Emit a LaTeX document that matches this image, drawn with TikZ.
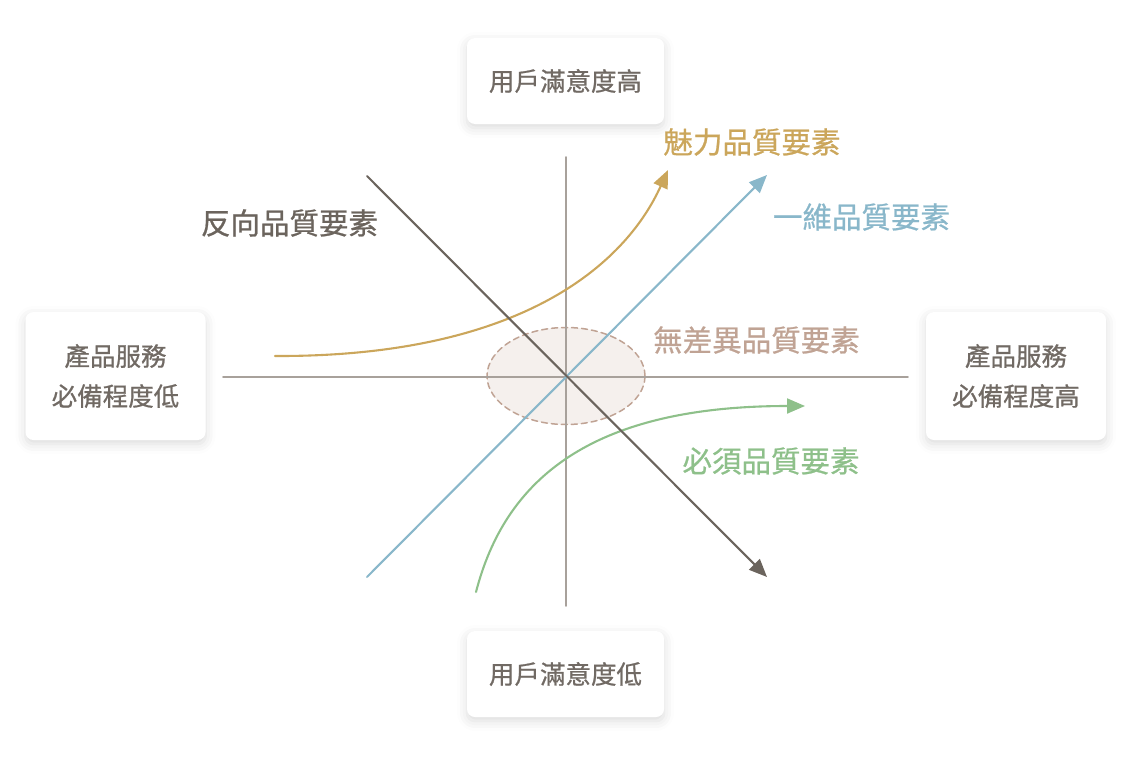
\documentclass[tikz,border=0pt]{standalone}
\usepackage{fontspec}
\setmainfont{Noto Sans CJK TC}[FakeBold=0.8]
\usetikzlibrary{arrows.meta, shapes.geometric, shadows.blur}

\definecolor{boxtext}{HTML}{716A64}
\definecolor{axisgray}{HTML}{A8A19B}
\definecolor{revcol}{HTML}{6B645D}
\definecolor{onecol}{HTML}{89B7CA}
\definecolor{attrcol}{HTML}{CBA65B}
\definecolor{mustcol}{HTML}{8EC08A}
\definecolor{indcol}{HTML}{C0A394}
\definecolor{indfill}{HTML}{F5F0ED}

\begin{document}
\begin{tikzpicture}[x=1pt, y=-1pt, >={Triangle[length=18pt,width=15pt]}, line cap=round]
				\tikzstyle{box}=[fill=white, rounded corners=8pt, inner sep=0pt, align=center, text=boxtext, font=\fontsize{25.5}{40}\selectfont, blur shadow={shadow xshift=0pt, shadow yshift=-4pt, shadow blur radius=10pt, shadow opacity=14}]
				\tikzstyle{quality}=[inner sep=0pt, font=\fontsize{29.5}{36}\selectfont]
				\tikzstyle{axis}=[draw=axisgray, line width=1.6pt]
				\tikzstyle{curve}=[line width=2.1pt]

				\useasboundingbox (0,0) rectangle (1140,760);

				\node[box, minimum width=197pt, minimum height=86pt] at (565.5, 81)  (top)    {用戶滿意度高};
				\node[box, minimum width=197pt, minimum height=86pt] at (565.5, 674) (bottom) {用戶滿意度低};
				\node[box, minimum width=180pt, minimum height=128pt] at (115.5, 376) (left)  {產品服務\\必備程度低};
				\node[box, minimum width=180pt, minimum height=128pt] at (1016, 376) (right)  {產品服務\\必備程度高};

				\node[draw=indcol, fill=indfill, ellipse, dash pattern=on 6pt off 4pt, line width=1.5pt, minimum width=158pt, minimum height=97pt] at (566, 376) (zone) {};

				\coordinate (xl) at (223, 377);
				\coordinate (xr) at (908, 377);
				\coordinate (yt) at (566, 157);
				\coordinate (yb) at (566, 606);
				\coordinate (r0) at (367, 176);
				\coordinate (r1) at (767, 577);
				\coordinate (o0) at (367, 577);
				\coordinate (o1) at (767, 175);
				\coordinate (a0) at (275, 356);
				\coordinate (a1) at (668, 170);
				\coordinate (m0) at (476, 592);
				\coordinate (m1) at (805, 406);

				\draw[axis] (xl) -- (xr);
				\draw[axis] (yt) -- (yb);

				\draw[curve, attrcol, ->] (a0) .. controls (520, 357) and (625, 265) .. (a1);
				\draw[curve, mustcol, ->] (m0) .. controls (505, 480) and (590, 406) .. (m1);
				\draw[curve, onecol, ->] (o0) -- (o1);
				\draw[curve, revcol, ->] (r0) -- (r1);

				\node[quality, text=revcol]  at (289.5, 223) (rev)    {反向品質要素};
				\node[quality, text=attrcol] at (752, 142)   (attr)   {魅力品質要素};
				\node[quality, text=onecol]  at (861.5, 217) (onedim) {一維品質要素};
				\node[quality, text=indcol]  at (756.5, 340) (indiff) {無差異品質要素};
				\node[quality, text=mustcol] at (771, 461)   (must)   {必須品質要素};
		  \end{tikzpicture}
\end{document}
